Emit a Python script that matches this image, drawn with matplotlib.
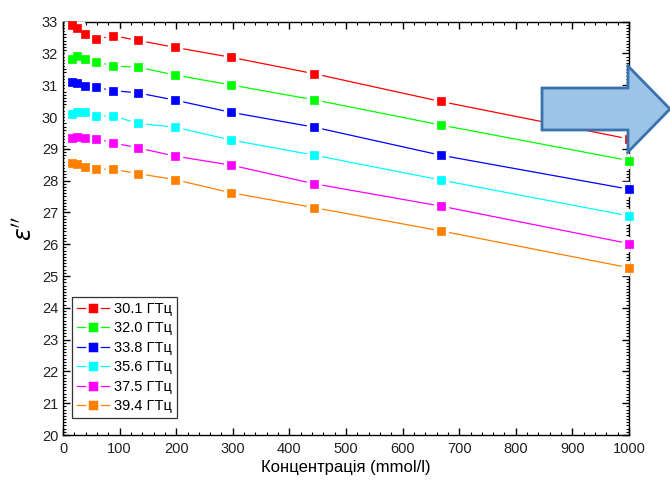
import matplotlib
matplotlib.use("Agg")
import matplotlib.pyplot as plt
from matplotlib.ticker import MultipleLocator
from matplotlib.patches import Polygon
from matplotlib.lines import Line2D

plt.rcParams['font.family'] = ['Liberation Sans', 'DejaVu Sans']

conc = [16, 25, 39, 59, 88, 132, 198, 296, 444, 667, 1000]

eps_301 = [32.89, 32.79, 32.60, 32.44, 32.56, 32.41, 32.19, 31.88, 31.36, 30.49, 29.31]
eps_320 = [31.81, 31.92, 31.82, 31.74, 31.60, 31.57, 31.32, 31.01, 30.54, 29.75, 28.63]
eps_338 = [31.09, 31.06, 30.98, 30.93, 30.83, 30.76, 30.53, 30.15, 29.68, 28.80, 27.73]
eps_356 = [30.08, 30.17, 30.17, 30.02, 30.04, 29.80, 29.68, 29.28, 28.80, 28.02, 26.89]
eps_375 = [29.35, 29.38, 29.35, 29.31, 29.19, 29.03, 28.77, 28.49, 27.90, 27.20, 26.02]
eps_394 = [28.56, 28.52, 28.42, 28.36, 28.36, 28.22, 28.03, 27.62, 27.15, 26.42, 25.26]

labels = ["30.1 ГТц", "32.0 ГТц", "33.8 ГТц", "35.6 ГТц", "37.5 ГТц", "39.4 ГТц"]
series = [eps_301, eps_320, eps_338, eps_356, eps_375, eps_394]
colors = ["#FF0000", "#00FF00", "#0000FF", "#00FFFF", "#FF00FF", "#FF8000"]

W, H = 670, 486
fig = plt.figure(figsize=(W / 100, H / 100), dpi=100)
ax = fig.add_axes([63 / W, 1 - 435 / H, (629 - 63) / W, (435 - 21.6) / H])

for ys, c in zip(series, colors):
    ax.plot(conc, ys, color=c, lw=0.9, zorder=2, solid_capstyle='butt')
for ys in series:
    ax.plot(conc, ys, ls='none', marker='s', ms=9.5, mfc='white', mec='white', zorder=3)
for ys, c in zip(series, colors):
    ax.plot(conc, ys, ls='none', marker='s', ms=6, mfc=c, mec=c, mew=0.5, zorder=4,
            clip_on=False)

ax.set_xlim(0, 1000)
ax.set_ylim(20, 33)
ax.xaxis.set_major_locator(MultipleLocator(100))
ax.xaxis.set_minor_locator(MultipleLocator(20))
ax.yaxis.set_major_locator(MultipleLocator(1))
ax.yaxis.set_minor_locator(MultipleLocator(0.1))
ax.tick_params(which='both', direction='in', top=True, right=True, labelsize=10.5,
               colors='black', labelcolor='#222222')
ax.tick_params(which='major', length=5, width=1)
ax.tick_params(which='minor', length=2.5, width=0.8)
ax.tick_params(axis='x', pad=5)
for s in ax.spines.values():
    s.set_linewidth(1.0)

ax.set_xlabel("Концентрація (mmol/l)", fontsize=12, labelpad=3)
ax.set_ylabel(r"$\varepsilon''$", fontsize=17, labelpad=4)

handles = [Line2D([], [], color=c, lw=0.9, marker='s', ms=8.5, mfc=c, mec='white', mew=1.8)
           for c in colors]
leg = ax.legend(handles, labels, loc='lower left', bbox_to_anchor=(9 / 566, 0.04),
                frameon=True, fancybox=False, edgecolor='black', fontsize=10.5,
                handlelength=2.2, handletextpad=0.3, borderpad=0.35, labelspacing=0.38,
                borderaxespad=0)
leg.get_frame().set_linewidth(0.9)

arrow_px = [(542, 88), (628, 88), (628, 66), (670, 109), (628, 152), (628, 130), (542, 130)]
arrow = Polygon([(x / W, 1 - y / H) for x, y in arrow_px], closed=True,
                transform=fig.transFigure, facecolor='#9DC3E6', edgecolor='#3A72AE',
                linewidth=2, zorder=10, clip_on=False)
fig.patches.append(arrow)

fig.savefig("out.png", dpi=100)
